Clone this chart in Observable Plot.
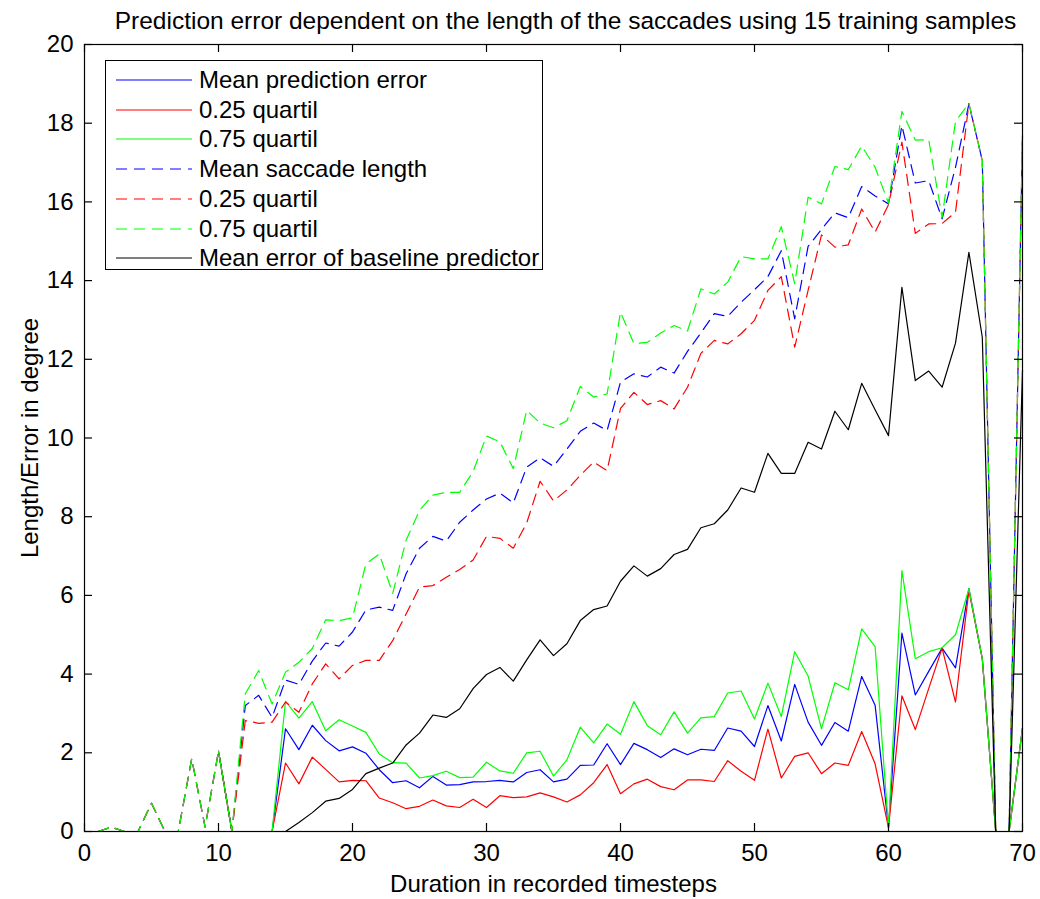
<!DOCTYPE html>
<html><head><meta charset="utf-8">
<script src="https://cdn.jsdelivr.net/npm/d3@7"></script>
<script src="https://cdn.jsdelivr.net/npm/@observablehq/plot@0.6"></script>
<style>
body{margin:0;background:#fff;font-family:"Liberation Sans",Arial,sans-serif;}
#wrap{position:relative;width:1040px;height:899px;}
#legend{position:absolute;left:105px;top:60px;width:436px;height:208px;border:1.3px solid #000;background:#fff;box-sizing:content-box;}
.row{position:absolute;left:0;height:30px;width:100%;}
.row svg{position:absolute;left:10px;top:0;}
.row span{position:absolute;left:93px;top:0;line-height:30px;font-size:24px;white-space:nowrap;color:#000;}
</style></head><body><div id="wrap"></div>
<script>
const xs = d3.range(1, 71);
const meanErr = [null,null,null,null,null,null,null,null,null,2.04, 0,0,0,0,2.61, 2.08,2.70,2.31,2.05,2.15, 1.99,1.57,1.24,1.29,1.11, 1.40,1.18,1.19,1.26,1.27, 1.30,1.26,1.50,1.57,1.26, 1.33,1.68,1.69,2.23,1.70, 2.24,2.08,1.88,2.10,1.95, 2.09,2.06,2.63,2.55,2.16, 3.20,2.30,3.74,2.78,2.19, 2.77,2.55,3.94,3.21,0.10, 5.04,3.47,4.07,4.66,4.16, 6.17,4.39,0,0,2.63];
const errQ25 = [null,null,null,null,null,null,null,null,null,2.04, 0,0,0,0,1.74, 1.21,1.89,1.58,1.26,1.30, 1.29,0.85,0.73,0.58,0.64, 0.80,0.65,0.61,0.82,0.61, 0.91,0.86,0.88,0.98,0.88, 0.75,0.93,1.24,1.70,0.96, 1.21,1.33,1.14,1.06,1.31, 1.31,1.27,1.80,1.53,1.30, 2.60,1.36,1.91,2.00,1.47, 1.74,1.68,2.54,1.72,0.10, 3.45,2.59,3.63,4.66,3.29, 6.12,4.39,0,0,2.63];
const errQ75 = [null,null,null,null,null,null,null,null,null,2.04, 0,0,0,0,3.31, 2.88,3.30,2.56,2.84,2.68, 2.52,1.97,1.75,1.74,1.36, 1.42,1.53,1.37,1.38,1.76, 1.54,1.48,2.00,2.04,1.41, 1.82,2.65,2.25,2.73,2.47, 3.30,2.69,2.46,3.04,2.50, 2.89,2.92,3.52,3.57,2.86, 3.77,2.92,4.57,3.95,2.61, 3.78,3.60,5.15,4.70,0.10, 6.63,4.39,4.57,4.67,5.00, 6.17,4.39,0,0,2.63];
const lenMean = [0,0.11,0,0,0.72, 0,0,1.85,0.11,2.04, 0,3.20,3.46,2.90,3.85, 3.74,4.33,4.79,4.71,5.07, 5.63,5.70,5.62,6.55,7.20, 7.50,7.38,7.86,8.17,8.45, 8.60,8.35,9.26,9.50,9.28, 9.72,10.17,10.38,10.19,11.42, 11.63,11.55,11.80,11.65,12.20, 12.67,13.16,13.09,13.45,13.77, 14.10,14.76,13.03,14.87,15.30, 15.72,15.60,16.39,16.15,15.95, 17.94,16.48,16.54,15.57,16.88, 18.49,17.05,0,0,17.69];
const lenQ25 = [0,0.11,0,0,0.72, 0,0,1.85,0.11,2.04, 0,2.82,2.75,2.78,3.29, 3.03,3.75,4.26,3.88,4.22, 4.35,4.35,4.85,5.53,6.21, 6.25,6.46,6.66,6.90,7.50, 7.45,7.20,7.84,8.90,8.40, 8.68,9.05,9.39,9.17,10.75, 11.16,10.85,10.95,10.74,11.29, 12.15,12.48,12.39,12.65,12.99, 13.75,14.10,12.31,13.75,15.16, 14.85,14.91,15.82,15.23,15.93, 17.52,15.20,15.44,15.45,15.74, 18.50,17.05,0,0,17.69];
const lenQ75 = [0,0.11,0,0,0.72, 0,0,1.85,0.11,2.04, 0,3.50,4.09,3.24,4.05, 4.30,4.65,5.38,5.36,5.43, 6.80,7.05,6.05,7.40,8.16, 8.55,8.62,8.62,9.15,10.05, 9.90,9.22,10.70,10.38,10.26, 10.44,11.31,11.04,11.12,13.20, 12.40,12.43,12.67,12.86,12.72, 13.79,13.66,13.96,14.61,14.55, 14.55,15.37,13.92,16.12,15.95, 16.90,16.82,17.42,16.88,15.97, 18.30,17.57,17.58,15.60,18.05, 18.50,17.05,0,0,17.69];
const baseline = [0,0,0,0,0, 0,0,0,0,0, 0,0,0,0,0, 0.23,0.48,0.77,0.84,1.07, 1.47,1.61,1.74,2.20,2.50, 2.96,2.90,3.12,3.63,3.99, 4.17,3.82,4.36,4.87,4.47, 4.77,5.36,5.64,5.73,6.36, 6.75,6.49,6.68,7.04,7.17, 7.72,7.82,8.17,8.73,8.62, 9.61,9.10,9.10,9.89,9.72, 10.68,10.21,11.39,10.72,10.06, 13.83,11.46,11.70,11.29,12.41, 14.72,12.56,0,0,11.72];
const xTicks = [0,10,20,30,40,50,60,70];
const yTicks = [0,2,4,6,8,10,12,14,16,18,20];
const seriesLabels = ["Mean prediction error","0.25 quartil","0.75 quartil","Mean saccade length","0.25 quartil","0.75 quartil","Mean error of baseline predictor"];
const seriesColors = ["#0000ff","#ff0000","#00ff00","#0000ff","#ff0000","#00ff00","#000000"];
const seriesDash = [null,null,null,"11,7","11,7","11,7",null];
const seriesValues = [meanErr, errQ25, errQ75, lenMean, lenQ25, lenQ75, baseline];
const titleText = "Prediction error dependent on the length of the saccades using 15 training samples";

const W = 1040, H = 899, mL = 84, mR = 18, mT = 44, mB = 68;
const fw = W - mL - mR, fh = H - mT - mB, tk = 8;

const lineMarks = seriesValues.map((vals, i) => Plot.line(
  xs.map((x, j) => ({x, y: vals[j]})),
  {x: "x", y: "y", stroke: seriesColors[i], strokeWidth: 1.2, strokeDasharray: seriesDash[i] ?? undefined, curve: "linear"}
));

const chart = Plot.plot({
  width: W, height: H,
  marginLeft: mL, marginRight: mR, marginTop: mT, marginBottom: mB,
  style: {fontFamily: "'Liberation Sans', Arial, sans-serif", fontSize: "24px", color: "#000", background: "#fff", overflow: "visible"},
  x: {domain: [0, 70]},
  y: {domain: [0, 20]},
  marks: [
    ...lineMarks,
    Plot.frame({stroke: "#000", strokeWidth: 1.2}),
    Plot.tickX(xTicks, {x: d => d, insetTop: fh - tk, stroke: "#000", strokeWidth: 1.2}),
    Plot.tickX(xTicks, {x: d => d, insetBottom: fh - tk, stroke: "#000", strokeWidth: 1.2}),
    Plot.tickY(yTicks, {y: d => d, insetRight: fw - tk, stroke: "#000", strokeWidth: 1.2}),
    Plot.tickY(yTicks, {y: d => d, insetLeft: fw - tk, stroke: "#000", strokeWidth: 1.2}),
    Plot.axisX({ticks: xTicks, tickSize: 0, tickPadding: 12, fontSize: 24, label: "Duration in recorded timesteps", labelAnchor: "center", labelArrow: "none", labelOffset: 60}),
    Plot.axisY({ticks: yTicks, tickSize: 0, tickPadding: 11, fontSize: 24, label: "Length/Error in degree", labelAnchor: "center", labelArrow: "none", labelOffset: 64}),
    Plot.text([titleText], {text: d => d, frameAnchor: "top", dy: -33, dx: 12, fontSize: 24.5, fill: "#000"})
  ]
});
const wrap = document.getElementById("wrap");
wrap.appendChild(chart);

const legend = document.createElement("div");
legend.id = "legend";
seriesLabels.forEach((lab, i) => {
  const row = document.createElement("div");
  row.className = "row";
  row.style.top = (4 + i * 29.7) + "px";
  const svg = d3.create("svg").attr("width", 76).attr("height", 30);
  const ln = svg.append("line").attr("x1", 0).attr("x2", 76).attr("y1", 15).attr("y2", 15)
    .attr("stroke", seriesColors[i]).attr("stroke-width", 1.2);
  if (seriesDash[i]) ln.attr("stroke-dasharray", seriesDash[i]);
  row.appendChild(svg.node());
  const sp = document.createElement("span");
  sp.textContent = lab;
  row.appendChild(sp);
  legend.appendChild(row);
});
wrap.appendChild(legend);
</script>
</body></html>
